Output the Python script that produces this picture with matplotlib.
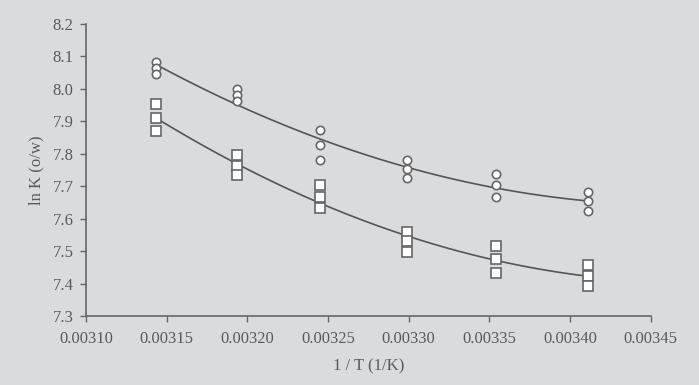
import matplotlib
matplotlib.use("Agg")
import matplotlib.pyplot as plt
import numpy as np

# temperatures (K) -> 1/T positions, three replicate measurements each
temps = [318.15, 313.15, 308.15, 303.15, 298.15, 293.15]
inv_t = [1.0 / t for t in temps]

circle_vals = [
    [8.082, 8.064, 8.046],
    [7.999, 7.981, 7.962],
    [7.873, 7.827, 7.780],
    [7.781, 7.752, 7.725],
    [7.739, 7.703, 7.667],
    [7.681, 7.653, 7.625],
]
square_vals = [
    [7.952, 7.909, 7.869],
    [7.795, 7.762, 7.734],
    [7.703, 7.667, 7.634],
    [7.558, 7.530, 7.498],
    [7.516, 7.477, 7.434],
    [7.456, 7.423, 7.392],
]

bg = "#dadbdc"
ink = "#5a5a5a"
plt.rcParams["font.family"] = ["Liberation Serif", "DejaVu Serif"]

fig = plt.figure(figsize=(6.99, 3.85), dpi=100, facecolor=bg)
ax = fig.add_axes([0.123, 0.179, 0.808, 0.759], facecolor=bg)

for vals, mk, ms in [(circle_vals, "o", 6), (square_vals, "s", 6.5)]:
    xs = np.repeat(inv_t, 3)
    ys = np.array(vals).ravel()
    # 2nd-order trend line through the replicates
    coef = np.polyfit(xs, ys, 2)
    xl = np.linspace(min(inv_t), max(inv_t), 100)
    ax.plot(xl, np.polyval(coef, xl), color="#555555", lw=1.2, zorder=2)
    ax.plot(xs, ys, mk, ms=ms, mfc="white", mec="#666666", mew=1.2,
            ls="none", zorder=3)

ax.set_xlim(0.00310, 0.00345)
ax.set_ylim(7.3, 8.2)
ax.set_xticks(np.arange(0.00310, 0.003451, 0.00005))
ax.set_xticklabels([f"{v:.5f}" for v in np.arange(0.00310, 0.003451, 0.00005)])
ax.set_yticks(np.arange(7.3, 8.21, 0.1))
ax.set_yticklabels([f"{v:.1f}" for v in np.arange(7.3, 8.21, 0.1)])

for s in ["top", "right"]:
    ax.spines[s].set_visible(False)
for s in ["left", "bottom"]:
    ax.spines[s].set_color("#666666")
    ax.spines[s].set_linewidth(1.2)
ax.tick_params(colors="#666666", labelcolor=ink, labelsize=12, length=4, width=1)
ax.tick_params(axis="x", pad=7)
ax.tick_params(axis="y", pad=5)

ax.set_xlabel("1 / T (1/K)", color=ink, fontsize=12, labelpad=8)
ax.set_ylabel("ln K (o/w)", color=ink, fontsize=12, labelpad=6)

fig.savefig("out.png", dpi=100, facecolor=bg)
